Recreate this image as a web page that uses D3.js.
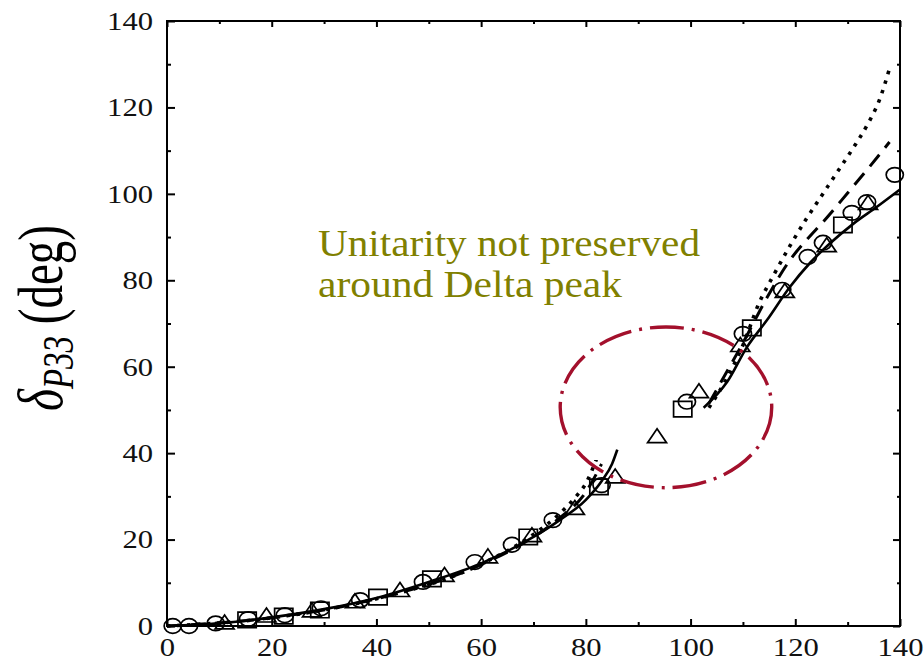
<!DOCTYPE html>
<html>
<head>
<meta charset="utf-8">
<script src="https://cdn.jsdelivr.net/npm/d3@7"></script>
<style>
body{margin:0;background:#fff;}
</style>
</head>
<body>
<div class="chart"></div>
<script>
//Tick values
const xTicks = [0, 20, 40, 60, 80, 100, 120, 140];
const yTicks = [0, 20, 40, 60, 80, 100, 120, 140];
const minorTicks = [10, 30, 50, 70, 90, 110, 130];

//Data points (x = energy, y = phase shift in deg)
const circles = [[1.1,0],[4.2,0],[9.3,0.6],[15.5,1.6],[22.5,2.5],[29.4,4.1],[36.9,6.0],[48.9,10.2],
	[58.8,14.8],[65.9,18.8],[73.7,24.5],[83.0,32.6],[99.3,51.9],[110,67.6],[117.5,77.8],[122.4,85.4],
	[125.3,88.7],[130.8,95.6],[133.7,98.1],[139,104.4]];
const squares = [[15.3,1.4],[22.3,2.3],[29.2,3.7],[40.3,6.7],[50.6,10.9],[69.0,20.6],[82.5,32.2],
	[98.5,50.2],[111.7,69.0],[129.1,92.8]];
const triangles = [[11,0.4],[19,2.0],[27.7,3.2],[35.9,5.3],[44.5,7.9],[53,11.4],[61.3,15.7],[69.7,20.6],
	[77.9,26.9],[85.6,34.2],[93.6,43.5],[101.6,53.9],[109.5,64.6],[118,77.1],[126,87.7],[133.9,97.5]];

//Curves (two pieces each, gap around the Delta peak)
const solidLow = [[0,0],[10,0.6],[20,2.0],[30,3.9],[40,6.5],[50,10.2],[60,14.5],[65,17.3],[70,20.6],
	[75,24.5],[80,29.2],[83,33.5],[85,37.5],[86,40.8]];
const solidHigh = [[102.5,50.5],[107,56.5],[110.8,64.6],[114.6,70.8],[119,78.5],[122.8,84],[126.6,88.5],
	[131,93],[135.6,97],[140,101]];
const dashedLow = [[0,0],[20,1.9],[40,6.3],[60,14.2],[70,20.6],[75,25],[80,31],[83,37.5]];
const dashedHigh = [[103.5,51.5],[107,59],[110,65.5],[114.6,76],[119,84.7],[122.2,89.4],[125.3,93.5],
	[130,100.2],[134,106],[138,112]];
const dottedLow = [[0,0],[20,1.9],[40,6.3],[60,14.3],[70,21.2],[75,26],[78,29.8],[80,33],[82,38.5]];
const dottedHigh = [[103.5,50.5],[107,57.5],[110,65],[113,74.5],[116,81.5],[119,88],[122,94],[125,99.5],
	[128,105],[131,110.5],[134,116.5],[136,121.5],[138,129]];

//Ellipse marking the Delta region: centre and radii in data units
const ringCentre = [95.3, 50.6];
const ringRadius = [20.2, 18.6];

const noteLines = ['Unitarity not preserved', 'around Delta peak'];

//Set SVG
const width = 924;
const height = 662;
const svg = d3.select('.chart')
	.append('svg')
	.attr('width', width)
	.attr('height', height);

const x = d3.scaleLinear().domain([0, 140]).range([167, 900]);
const y = d3.scaleLinear().domain([0, 140]).range([626, 21]);
const font = '"Liberation Serif", "Times New Roman", serif';

//Frame
svg.append('rect')
	.attr('x', x(0)).attr('y', y(140))
	.attr('width', x(140) - x(0)).attr('height', y(0) - y(140))
	.attr('fill', 'none').attr('stroke', '#000').attr('stroke-width', 2);

//Axes, ticks pointing inward
function styleAxis(g){
	g.select('.domain').remove();
	g.selectAll('.tick line').attr('stroke', '#000').attr('stroke-width', 2);
	g.selectAll('text')
		.attr('font-family', font)
		.attr('font-size', '26px')
		.attr('fill', '#111')
		.attr('textLength', function(){ return this.textContent.length * 15.3; })
		.attr('lengthAdjust', 'spacingAndGlyphs');
}
svg.append('g').attr('transform', `translate(0,${y(0)})`)
	.call(d3.axisBottom(x).tickValues(xTicks).tickSize(-7).tickPadding(12)).call(styleAxis);
svg.append('g').attr('transform', `translate(${x(0)},0)`)
	.call(d3.axisLeft(y).tickValues(yTicks).tickSize(-8).tickPadding(14)).call(styleAxis);
svg.append('g').attr('transform', `translate(0,${y(140)})`)
	.call(d3.axisTop(x).tickValues(xTicks).tickSize(-6).tickFormat('')).call(styleAxis);
svg.append('g').attr('transform', `translate(${x(140)},0)`)
	.call(d3.axisRight(y).tickValues(yTicks).tickSize(-7).tickFormat('')).call(styleAxis);
//minor ticks
svg.append('g').attr('transform', `translate(0,${y(0)})`)
	.call(d3.axisBottom(x).tickValues(minorTicks).tickSize(-4).tickFormat('')).call(styleAxis);
svg.append('g').attr('transform', `translate(${x(0)},0)`)
	.call(d3.axisLeft(y).tickValues(minorTicks).tickSize(-4).tickFormat('')).call(styleAxis);
svg.append('g').attr('transform', `translate(0,${y(140)})`)
	.call(d3.axisTop(x).tickValues(minorTicks).tickSize(-3).tickFormat('')).call(styleAxis);
svg.append('g').attr('transform', `translate(${x(140)},0)`)
	.call(d3.axisRight(y).tickValues(minorTicks).tickSize(-3).tickFormat('')).call(styleAxis);

//Y axis title
const yTitle = svg.append('text')
	.attr('transform', `translate(62,318) scale(1.35,1) rotate(-90)`)
	.attr('font-family', font)
	.attr('font-size', '47px')
	.attr('fill', '#000')
	.attr('text-anchor', 'middle');
yTitle.append('tspan').attr('font-style', 'italic').text('δ');
yTitle.append('tspan').attr('font-style', 'italic').attr('font-size', '33px').attr('dy', 8).text('P33');
yTitle.append('tspan').attr('dy', -8).text(' (deg)');

//Curves
const line = d3.line().x(d => x(d[0])).y(d => y(d[1])).curve(d3.curveMonotoneX);
const curves = [
	{pts: dottedLow, w: 3.6, dash: '3.5,6.5'},
	{pts: dottedHigh, w: 3.6, dash: '3.5,6.5'},
	{pts: dashedLow, w: 3, dash: '15,9'},
	{pts: dashedHigh, w: 3, dash: '15,9'},
	{pts: solidLow, w: 2.6, dash: null},
	{pts: solidHigh, w: 2.6, dash: null}
];
svg.selectAll('path.curve')
	.data(curves)
	.enter()
	.append('path')
	.attr('class', 'curve')
	.attr('d', d => line(d.pts))
	.attr('fill', 'none')
	.attr('stroke', '#000')
	.attr('stroke-width', d => d.w)
	.attr('stroke-dasharray', d => d.dash);

//Markers (picture is a bit wide, so the symbols are stretched in x)
function drawMarkers(data, type, size){
	svg.append('g').selectAll('path')
		.data(data)
		.enter()
		.append('path')
		.attr('d', d3.symbol().type(type).size(size))
		.attr('transform', d => `translate(${x(d[0])},${y(d[1])}) scale(1.18,1)`)
		.attr('fill', 'none')
		.attr('stroke', '#000')
		.attr('stroke-width', 1.7)
		.attr('vector-effect', 'non-scaling-stroke');
}
drawMarkers(circles, d3.symbolCircle, 167);
drawMarkers(squares, d3.symbolSquare, 240);
drawMarkers(triangles, d3.symbolTriangle, 112);

//Ring around Delta peak
svg.append('ellipse')
	.attr('cx', x(ringCentre[0]))
	.attr('cy', y(ringCentre[1]))
	.attr('rx', x(ringCentre[0] + ringRadius[0]) - x(ringCentre[0]))
	.attr('ry', y(ringCentre[1]) - y(ringCentre[1] + ringRadius[1]))
	.attr('fill', 'none')
	.attr('stroke', '#a3102c')
	.attr('stroke-width', 3.4)
	.attr('stroke-dasharray', '34,8,3,8');

//Note
svg.selectAll('text.note')
	.data(noteLines)
	.enter()
	.append('text')
	.attr('class', 'note')
	.attr('x', 318)
	.attr('y', (d, i) => 256 + i * 41)
	.attr('font-family', font)
	.attr('font-size', '38px')
	.attr('fill', '#808000')
	.attr('textLength', (d, i) => i === 0 ? 382 : 304)
	.attr('lengthAdjust', 'spacingAndGlyphs')
	.text(d => d);
</script>
</body>
</html>
